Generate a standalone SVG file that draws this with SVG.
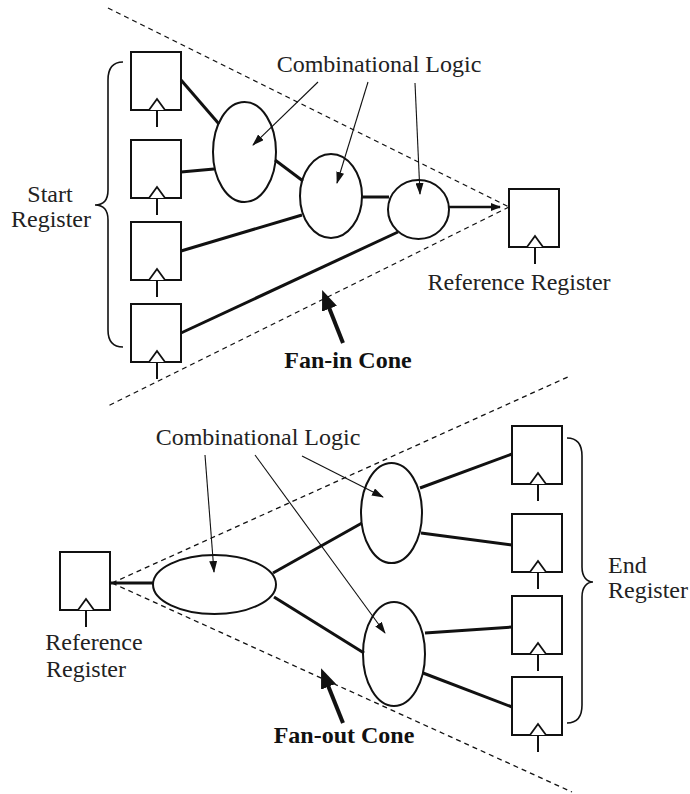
<svg xmlns="http://www.w3.org/2000/svg" xmlns:xlink="http://www.w3.org/1999/xlink" width="690" height="794" viewBox="0 0 690 794">
<style>
.bg{fill:#fff}
.box{fill:#fff;stroke:#111;stroke-width:2}
.tri{fill:#fff;stroke:#111;stroke-width:1.8}
.clk{stroke:#111;stroke-width:2}
.ell{fill:#fff;stroke:#111;stroke-width:2}
.wire{stroke:#111;stroke-width:3;fill:none}
.dash{stroke:#111;stroke-width:1.3;stroke-dasharray:5,4;fill:none}
.ptr{stroke:#111;stroke-width:1.1;fill:none;marker-end:url(#ah)}
.fan{stroke:#111;stroke-width:4;fill:none;marker-end:url(#bh)}
.brace{stroke:#111;stroke-width:1.6;fill:none}
.t{font-family:"Liberation Serif","Times New Roman",serif;font-size:24px;fill:#222}
.b{font-family:"Liberation Serif","Times New Roman",serif;font-size:24px;font-weight:bold;fill:#111}
</style>
<defs>
<marker id="ah" markerWidth="12" markerHeight="8" refX="11" refY="4" orient="auto" markerUnits="userSpaceOnUse">
<path d="M0,0 L12,4 L0,8 Z" fill="#111"/>
</marker>
<marker id="sh" markerWidth="10" markerHeight="8" refX="9" refY="4" orient="auto" markerUnits="userSpaceOnUse">
<path d="M0,0 L10,4 L0,8 Z" fill="#111"/>
</marker>
<marker id="bh" markerWidth="20" markerHeight="16" refX="4" refY="8" orient="auto" markerUnits="userSpaceOnUse">
<path d="M0,0 L20,8 L0,16 Z" fill="#111"/>
</marker>
<g id="reg">
<rect class="box" x="0" y="0" width="50" height="58"/>
<path class="tri" d="M18,58 L26,47 L34,58"/>
<line class="clk" x1="26" y1="58" x2="26" y2="75"/>
</g>
</defs>
<rect class="bg" x="0" y="0" width="690" height="794"/>

<g id="start-registers">
<use xlink:href="#reg" x="131" y="52"/>
<use xlink:href="#reg" x="131" y="140"/>
<use xlink:href="#reg" x="131" y="222"/>
<use xlink:href="#reg" x="131" y="304"/>
<path class="brace" d="M123,62 C113,62 108,68 108,80 L108,190 C108,200 103,205 95,205 C103,205 108,210 108,220 L108,330 C108,342 113,347 123,347"/>
<text class="t" x="50" y="202" text-anchor="middle">Start</text>
<text class="t" x="51" y="227" text-anchor="middle">Register</text>
</g>

<g id="fanin-logic">
<ellipse class="ell" cx="244.5" cy="152" rx="31.5" ry="50"/>
<ellipse class="ell" cx="331" cy="196" rx="31" ry="42"/>
<ellipse class="ell" cx="418.5" cy="209.5" rx="30.5" ry="29.5"/>
<text class="t" x="379" y="72" text-anchor="middle">Combinational Logic</text>
</g>

<g id="ref-register-top">
<use xlink:href="#reg" x="509" y="189"/>
<text class="t" x="519" y="290" text-anchor="middle">Reference Register</text>
</g>

<g id="fanin-label">
<text class="b" x="348" y="368" text-anchor="middle">Fan-in Cone</text>
</g>

<g id="ref-register-bottom">
<use xlink:href="#reg" x="60" y="552"/>
<text class="t" x="94" y="650" text-anchor="middle">Reference</text>
<text class="t" x="86" y="677" text-anchor="middle">Register</text>
</g>

<g id="fanout-logic">
<ellipse class="ell" cx="214.5" cy="584.5" rx="61.5" ry="29.5"/>
<ellipse class="ell" cx="391.5" cy="513" rx="30.5" ry="50"/>
<ellipse class="ell" cx="394" cy="654" rx="31" ry="52"/>
<text class="t" x="258" y="445" text-anchor="middle">Combinational Logic</text>
</g>

<g id="end-registers">
<use xlink:href="#reg" x="512" y="426"/>
<use xlink:href="#reg" x="512" y="514"/>
<use xlink:href="#reg" x="512" y="596"/>
<use xlink:href="#reg" x="512" y="677"/>
<path class="brace" d="M567,438 C577,438 582,444 582,456 L582,567 C582,577 587,582 593,582 C587,582 582,587 582,597 L582,705 C582,717 577,723 567,723"/>
<text class="t" x="608" y="573">End</text>
<text class="t" x="608" y="598">Register</text>
</g>

<g id="fanout-label">
<text class="b" x="344" y="743" text-anchor="middle">Fan-out Cone</text>
</g>

<g id="connectors">
<line class="dash" x1="108" y1="8" x2="509" y2="207"/>
<line class="dash" x1="509" y1="207" x2="108" y2="406"/>
<line class="dash" x1="112" y1="583" x2="570" y2="376"/>
<line class="dash" x1="112" y1="583" x2="572" y2="792"/>
<line class="wire" x1="181" y1="80" x2="219" y2="124"/>
<line class="wire" x1="181" y1="172" x2="214" y2="169"/>
<line class="wire" x1="275" y1="160" x2="303" y2="181"/>
<line class="wire" x1="181" y1="251" x2="302" y2="215"/>
<line class="wire" x1="181" y1="333" x2="398" y2="232"/>
<line class="wire" x1="361" y1="197" x2="389" y2="197"/>
<line class="wire" x1="448" y1="207" x2="500" y2="207" style="marker-end:url(#sh);stroke-width:2.5"/>
<line class="wire" x1="110" y1="583" x2="154" y2="583"/>
<line class="wire" x1="273" y1="573" x2="362" y2="523"/>
<line class="wire" x1="274" y1="597" x2="364" y2="653"/>
<line class="wire" x1="420" y1="488" x2="512" y2="454"/>
<line class="wire" x1="421" y1="533" x2="512" y2="545"/>
<line class="wire" x1="425" y1="633" x2="512" y2="627"/>
<line class="wire" x1="423" y1="673" x2="512" y2="707"/>
<line class="ptr" x1="318" y1="82" x2="253" y2="145"/>
<line class="ptr" x1="368" y1="82" x2="337" y2="183"/>
<line class="ptr" x1="415" y1="83" x2="420" y2="194"/>
<line class="ptr" x1="205" y1="455" x2="214" y2="572"/>
<line class="ptr" x1="255" y1="455" x2="385" y2="633"/>
<line class="ptr" x1="302" y1="456" x2="383" y2="497"/>
<line class="fan" x1="343" y1="343" x2="328" y2="305"/>
<line class="fan" x1="343" y1="723" x2="327" y2="683"/>
</g>
</svg>
